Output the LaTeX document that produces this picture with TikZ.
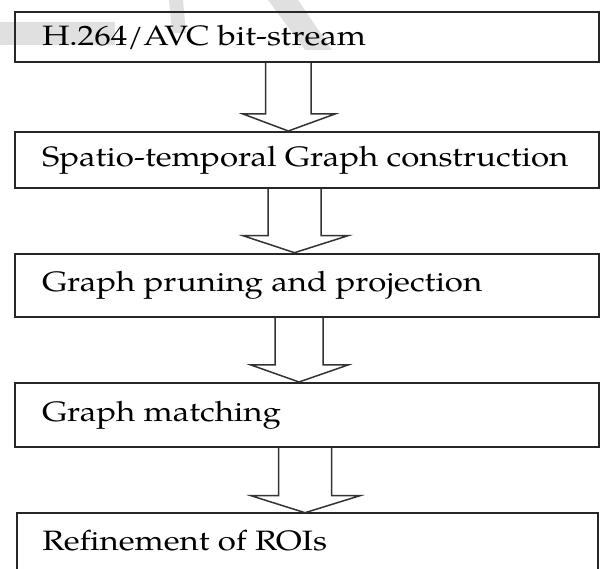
\documentclass[tikz,border=0pt]{standalone}
\usepackage{fontspec}
\setmainfont{texgyrepagella}[Extension=.otf,UprightFont=*-regular]
\usetikzlibrary{calc}
\newcommand\lbl[1]{\makebox[530pt][l]{\scalebox{1.18}[1]{#1}}}
\newcommand\blockarr[6]{%
  \coordinate (h#1#2) at ($(#2.north)+(0,-17)$);
  \draw[barrow] (#3,0 |- #1.south) -- (#3,0 |- h#1#2) -- (#5,0 |- h#1#2)
    -- ({(#3+#4)/2},0 |- #2.north) -- (#6,0 |- h#1#2) -- (#4,0 |- h#1#2) -- (#4,0 |- #1.south);}
\begin{document}
\begin{tikzpicture}[x=1pt,y=-1pt,
  box/.style={draw=black!85,line width=2pt,anchor=north west,
    inner xsep=26pt,inner ysep=0pt,minimum width=584pt,
    font=\fontsize{28}{30}\selectfont,text=black},
  barrow/.style={draw=black!80,line width=1.5pt,line join=miter},
  openbox/.style={draw=black!85,line width=2pt,line join=miter},
  wm/.style={fill=black!12,draw=none}]
\path[use as bounding box] (0,0) rectangle (603,569);
% faint watermark
\fill[wm] (0,22) rectangle (115,45);
\fill[wm] (169,0) -- (183,0) -- (186,33) -- (172,33) -- cycle;
\fill[wm] (268,0) -- (298,0) -- (332,50) -- (305,50) -- cycle;
% boxes
\node[box,minimum height=50pt] (b1) at (14,11) {\lbl{H.264/AVC bit-stream}};
\node[box,minimum height=56pt] (b2) at (14,131) {\lbl{Spatio-temporal Graph construction}};
\node[box,minimum height=63pt] (b3) at (14,252.7) {\lbl{Graph pruning and projection}};
\node[box,minimum height=63.7pt] (b4) at (14,382) {\lbl{Graph matching}};
\node[box,draw=none,outer sep=0pt,minimum height=56pt,minimum width=581.3pt,inner xsep=25pt] (b5) at (16.7,512.7) {\lbl{Refinement of ROIs}};
\draw[openbox] (b5.south west) -- (b5.north west) -- (b5.north east) -- (b5.south east);
% arrows
\blockarr{b1}{b2}{265.7}{311}{243}{335}
\blockarr{b2}{b3}{268}{321}{243}{348}
\blockarr{b3}{b4}{275}{323}{251}{348}
\blockarr{b4}{b5}{278.5}{331.5}{251}{360}
\end{tikzpicture}
\end{document}
